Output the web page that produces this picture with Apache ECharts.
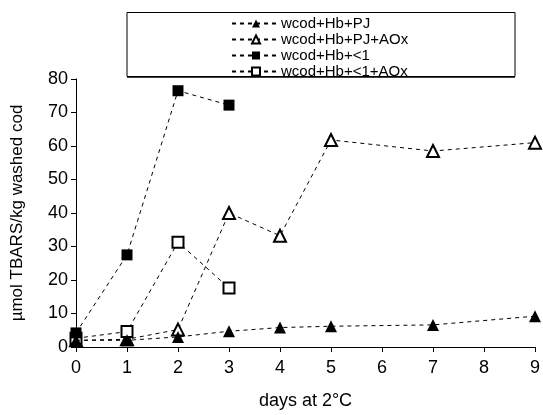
<!DOCTYPE html>
<html>
<head>
<meta charset="utf-8">
<script src="https://cdn.jsdelivr.net/npm/echarts@6/dist/echarts.min.js"></script>
<style>
  html, body { margin: 0; padding: 0; background: #fff; }
  #chart { width: 543px; height: 415px; }
</style>
</head>
<body>
<div id="chart"></div>
<script>
// days of storage
var pjDays = [0, 1, 2, 3, 4, 5, 7, 9];
var pj = [2, 2, 3, 4.7, 5.8, 6.2, 6.6, 9.2];
var pjAOx = [2, 2.3, 5.2, 40, 33.2, 61.8, 58.5, 61];
var lowDays = [0, 1, 2, 3];
var low = [4.2, 27.5, 76.5, 72.2];
var lowAOx = [2.6, 4.6, 31.3, 17.6];
var xTicks = [0, 1, 2, 3, 4, 5, 6, 7, 8, 9];

function pairs(xs, ys) {
  return xs.map(function (x, i) { return [x, ys[i]]; });
}

var chart = echarts.init(document.getElementById('chart'));
var font = 'Liberation Sans, Arial, sans-serif';
var line = { color: '#000', width: 1, type: [4, 4] };

function mk(name, data, symbol, size, filled) {
  return {
    name: name,
    type: 'line',
    data: data,
    symbol: symbol,
    symbolSize: size,
    showSymbol: true,
    lineStyle: line,
    itemStyle: {
      color: filled ? '#000' : '#fff',
      borderColor: '#000',
      borderWidth: filled ? 0 : 2
    },
    emphasis: { disabled: true },
    animation: false,
    z: filled ? 3 : 2
  };
}

chart.setOption({
  backgroundColor: '#fff',
  textStyle: { fontFamily: font, color: '#000' },
  grid: { left: 76, right: 7, top: 79, bottom: 67 },
  legend: {
    orient: 'vertical',
    left: 231,
    top: 16,
    padding: 0,
    itemGap: 1,
    itemWidth: 48,
    itemHeight: 10,
    textStyle: { fontFamily: font, fontSize: 15, lineHeight: 14, color: '#000', padding: [0, 0, 0, -4] },
    data: ['wcod+Hb+PJ', 'wcod+Hb+PJ+AOx', 'wcod+Hb+<1', 'wcod+Hb+<1+AOx']
  },
  graphic: [
    { type: 'rect', shape: { x: 127, y: 12.5, width: 388, height: 64 },
      style: { fill: 'none', stroke: '#000', lineWidth: 1 }, z: 0 },
    { type: 'line', shape: { x1: 127, y1: 77, x2: 515, y2: 77 },
      style: { stroke: '#000', lineWidth: 1.5 }, z: 0 }
  ],
  xAxis: {
    type: 'value',
    min: 0,
    max: 9,
    interval: 1,
    name: 'days at 2°C',
    nameLocation: 'middle',
    nameGap: 45,
    nameTextStyle: { fontFamily: font, fontSize: 18, color: '#000' },
    axisLine: { lineStyle: { color: '#000', width: 1 } },
    axisTick: { show: true, length: 5, inside: false, lineStyle: { color: '#000' } },
    axisLabel: {
      fontFamily: font, fontSize: 18, color: '#000', margin: 12,
      formatter: function (v) { return xTicks.indexOf(v) >= 0 ? String(v) : ''; }
    },
    splitLine: { show: false }
  },
  yAxis: {
    type: 'value',
    min: 0,
    max: 80,
    interval: 10,
    name: 'µmol TBARS/kg washed cod',
    nameLocation: 'middle',
    nameGap: 50,
    nameTextStyle: { fontFamily: font, fontSize: 17, color: '#000' },
    axisLine: { show: true, lineStyle: { color: '#000', width: 1 } },
    axisTick: { show: true, length: 5, lineStyle: { color: '#000' } },
    axisLabel: { fontFamily: font, fontSize: 18, color: '#000', margin: 8 },
    splitLine: { show: false }
  },
  series: [
    mk('wcod+Hb+PJ', pairs(pjDays, pj), 'triangle', 12, true),
    mk('wcod+Hb+PJ+AOx', pairs(pjDays, pjAOx), 'triangle', 12, false),
    mk('wcod+Hb+<1', pairs(lowDays, low), 'rect', 11, true),
    mk('wcod+Hb+<1+AOx', pairs(lowDays, lowAOx), 'rect', 11, false)
  ]
});
</script>
</body>
</html>
